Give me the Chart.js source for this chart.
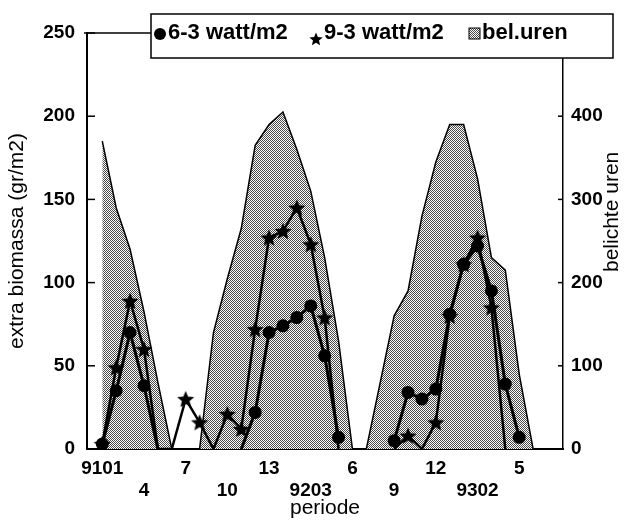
<!DOCTYPE html>
<html>
<head>
<meta charset="utf-8">
<script src="https://cdn.jsdelivr.net/npm/chart.js@4.4.1/dist/chart.umd.min.js"></script>
<style>
  html, body { margin: 0; padding: 0; background: #fff; }
  #wrap { width: 634px; height: 527px; }
</style>
</head>
<body>
<div id="wrap"><canvas id="chart"></canvas></div>
<script>
(function () {
  "use strict";

  // four-week periods 9101 .. 9307
  const periods = [
    "9101", "9102", "9103", "9104", "9105", "9106", "9107", "9108", "9109", "9110", "9111", "9112", "9113",
    "9201", "9202", "9203", "9204", "9205", "9206", "9207", "9208", "9209", "9210", "9211", "9212", "9213",
    "9301", "9302", "9303", "9304", "9305", "9306", "9307"
  ];
  // shown every third period
  const tickLabels = ["9101", "4", "7", "10", "13", "9203", "6", "9", "12", "9302", "5"];

  // extra biomassa (gr/m2)
  const biomass63 = [3, 35, 70, 38, 0, null, null, null, null, null, 0, 22, 70, 74, 79, 86, 56, 7,
    null, null, null, 5, 34, 30, 36, 81, 111, 122, 95, 39, 7, null, null];
  const biomass93 = [3, 49, 89, 60, 0, 0, 30, 16, 0, 21, 12, 72, 127, 131, 145, 123, 79, 0,
    null, null, null, 0, 8, 0, 16, 80, 111, 127, 85, 0, null, null, null];
  // belichte uren
  const belUren = [370, 290, 240, 165, 80, 0, 0, 0, 140, 205, 265, 365, 390, 405, 360, 310, 230, 130,
    0, 0, 80, 160, 190, 280, 345, 390, 390, 325, 230, 215, 90, 0, null];

  const family = "'Liberation Sans', Arial, sans-serif";
  const tickFont = { family: family, size: 19, weight: "bold" };
  const titleFont = { family: family, size: 21, weight: "normal" };

  function xy(values) {
    return values.map(function (v, i) { return { x: i, y: v }; });
  }

  function stipple() {
    const c = document.createElement("canvas");
    c.width = 2;
    c.height = 2;
    const g = c.getContext("2d");
    g.fillStyle = "#fff";
    g.fillRect(0, 0, 2, 2);
    g.fillStyle = "#4a4a4a";
    g.fillRect(0, 0, 1, 1);
    g.fillRect(1, 1, 1, 1);
    return g.createPattern(c, "repeat");
  }

  function starImage(size) {
    const c = document.createElement("canvas");
    c.width = size;
    c.height = size;
    const g = c.getContext("2d");
    const r = size / 2;
    g.beginPath();
    for (let k = 0; k < 10; k++) {
      const rad = k % 2 ? r * 0.45 : r;
      const a = -Math.PI / 2 + k * Math.PI / 5;
      g.lineTo(r + rad * Math.cos(a), r * 1.08 + rad * Math.sin(a));
    }
    g.closePath();
    g.fillStyle = "#000";
    g.fill();
    return c;
  }

  const pattern = stipple();
  const star = starImage(18);
  const legendStar = starImage(14);

  function markerSize(size) {
    return function (c) {
      const v = c.raw ? c.raw.y : null;
      return v ? size : 0;
    };
  }

  function line(ctx, x1, y1, x2, y2) {
    ctx.beginPath();
    ctx.moveTo(x1, y1);
    ctx.lineTo(x2, y2);
    ctx.stroke();
  }

  // inward ticks, top frame, boxed legend and right title
  const frame = {
    id: "frame",
    afterDraw: function (chart) {
      const ctx = chart.ctx;
      const area = chart.chartArea;
      const y = chart.scales.y;
      const y2 = chart.scales.y2;
      ctx.save();
      ctx.strokeStyle = "#000";
      ctx.lineWidth = 1.5;
      y.ticks.forEach(function (t) {
        const py = y.getPixelForValue(t.value);
        line(ctx, area.left, py, area.left + 8, py);
      });
      y2.ticks.forEach(function (t) {
        const py = y2.getPixelForValue(t.value);
        line(ctx, area.right - 5, py, area.right, py);
      });
      line(ctx, area.left - 3, area.top, area.right, area.top);

      const box = { left: 151, top: 14, right: 613, bottom: 58 };
      ctx.fillStyle = "#fff";
      ctx.fillRect(box.left, box.top, box.right - box.left, box.bottom - box.top);
      ctx.strokeRect(box.left, box.top, box.right - box.left, box.bottom - box.top);

      const cy = area.top;
      const markX = [9, 165, 323];
      ctx.font = "bold 22px " + family;
      ctx.textBaseline = "middle";
      ctx.textAlign = "left";
      chart.data.datasets.forEach(function (ds, k) {
        const mx = box.left + markX[k];
        ctx.fillStyle = "#000";
        if (k === 0) {
          ctx.beginPath();
          ctx.arc(mx, cy + 1, 6, 0, Math.PI * 2);
          ctx.fill();
        } else if (k === 1) {
          ctx.drawImage(legendStar, mx - 7, cy - 1);
        } else {
          ctx.fillStyle = pattern;
          ctx.fillRect(mx - 5, cy - 5, 11, 11);
          ctx.lineWidth = 1;
          ctx.strokeRect(mx - 5, cy - 5, 11, 11);
          ctx.fillStyle = "#000";
        }
        ctx.fillText(ds.label, mx + 8, cy);
      });

      ctx.font = titleFont.size + "px " + family;
      ctx.textAlign = "center";
      ctx.translate(area.right + 49, y2.getPixelForValue(285));
      ctx.rotate(-Math.PI / 2);
      ctx.fillText("belichte uren", 0, 0);
      ctx.restore();
    }
  };

  new Chart(document.getElementById("chart"), {
    type: "line",
    data: {
      datasets: [
        {
          label: "6-3 watt/m2",
          data: xy(biomass63),
          yAxisID: "y",
          borderColor: "#000",
          borderWidth: 3,
          pointStyle: "circle",
          pointRadius: markerSize(6.5),
          pointBackgroundColor: "#000",
          pointBorderColor: "#000",
          pointBorderWidth: 0,
          tension: 0,
          order: 0
        },
        {
          label: "9-3 watt/m2",
          data: xy(biomass93),
          yAxisID: "y",
          borderColor: "#000",
          borderWidth: 2.5,
          pointStyle: star,
          pointRadius: markerSize(8),
          tension: 0,
          order: 1
        },
        {
          label: "bel.uren",
          data: xy(belUren),
          yAxisID: "y2",
          borderColor: "#000",
          borderWidth: 1.5,
          backgroundColor: pattern,
          fill: "origin",
          pointRadius: 0,
          tension: 0,
          order: 2
        }
      ]
    },
    options: {
      responsive: true,
      maintainAspectRatio: false,
      animation: false,
      layout: { padding: { top: 33, left: 0, right: 0, bottom: 0 } },
      plugins: {
        legend: { display: false },
        tooltip: { enabled: false }
      },
      scales: {
        x: {
          type: "linear",
          min: -1.1,
          max: 33.15,
          afterBuildTicks: function (axis) {
            axis.ticks = tickLabels.map(function (_, k) { return { value: k * 3 }; });
          },
          afterFit: function (s) { s.height = 78; },
          grid: { display: false, drawTicks: false },
          border: { color: "#000", width: 2 },
          ticks: {
            autoSkip: false,
            maxRotation: 0,
            padding: 8,
            color: "#000",
            font: tickFont,
            callback: function (value) {
              const k = Math.round(value / 3);
              return k % 2 ? ["", tickLabels[k]] : [tickLabels[k]];
            }
          },
          title: { display: true, text: "periode", color: "#000", font: titleFont, padding: { top: 0, bottom: 6 } }
        },
        y: {
          position: "left",
          min: 0,
          max: 250,
          afterFit: function (s) { s.width = 87; },
          grid: { display: false, drawTicks: false },
          border: { color: "#000", width: 2 },
          ticks: { stepSize: 50, padding: 12, color: "#000", font: tickFont },
          title: { display: true, text: "extra biomassa (gr/m2)", color: "#000", font: titleFont, padding: { top: 5, bottom: 0 } }
        },
        y2: {
          position: "right",
          min: 0,
          max: 500,
          afterBuildTicks: function (axis) {
            axis.ticks = axis.ticks.filter(function (t) { return t.value <= 400; });
          },
          afterFit: function (s) { s.width = 71; },
          grid: { display: false, drawTicks: false },
          border: { color: "#000", width: 1.5 },
          ticks: { stepSize: 100, padding: 8, color: "#000", font: tickFont }
        }
      }
    },
    plugins: [frame]
  });
})();
</script>
</body>
</html>
